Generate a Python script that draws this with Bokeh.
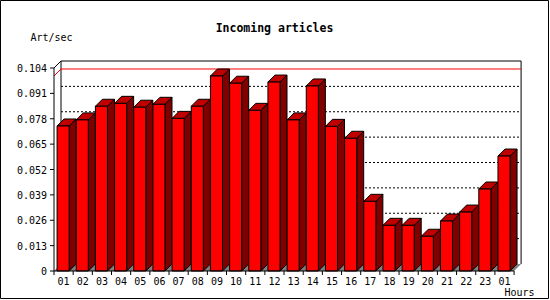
from bokeh.plotting import figure
from bokeh.models import Range1d
from bokeh.core.properties import value
from bokeh.embed import file_html
from bokeh.resources import INLINE

# ---------------- data ----------------
title_text = "Incoming articles"
y_title = "Art/sec"
x_title = "Hours"
hours = ["01", "02", "03", "04", "05", "06", "07", "08", "09", "10", "11", "12",
         "13", "14", "15", "16", "17", "18", "19", "20", "21", "22", "23", "01"]
rates = [0.0743, 0.0774, 0.0844, 0.0859, 0.0839, 0.0854, 0.0782, 0.0844,
         0.0999, 0.0962, 0.0823, 0.0968, 0.0774, 0.0948, 0.0741, 0.0680,
         0.0357, 0.0234, 0.0234, 0.0178, 0.0256, 0.0302, 0.0420, 0.0589]
y_ticks = [0, 0.013, 0.026, 0.039, 0.052, 0.065, 0.078, 0.091, 0.104]
y_tick_labels = ["0", "0.013", "0.026", "0.039", "0.052", "0.065", "0.078", "0.091", "0.104"]
y_top = 0.104

# ---------------- layout (pixels) ----------------
WIDTH, HEIGHT = 549, 299
X0_PX = 53.5      # pixel column of the front y axis
Y0_PX = 270.5     # pixel row of the front x axis
CAT_PX = 19.17    # width of one hour slot
K = 203.0 / y_top # pixels per unit on y
DEPTH = 7.0       # 3D depth in pixels


def xd(px):
    return (px - X0_PX) / CAT_PX


def yd(py):
    return (Y0_PX - py) / K


DX = DEPTH / CAT_PX
DY = DEPTH / K
N = len(rates)
FONT = value("DejaVu Sans Mono")

p = figure(width=WIDTH, height=HEIGHT, title=None,
           x_range=Range1d(xd(0), xd(WIDTH)), y_range=Range1d(yd(HEIGHT), yd(0)),
           x_axis_type=None, y_axis_type=None,
           output_backend="svg", toolbar_location=None,
           min_border=0, min_border_left=0, min_border_right=0,
           min_border_top=0, min_border_bottom=0)
p.grid.visible = False
p.background_fill_color = "white"
p.border_fill_color = "white"
p.outline_line_color = "black"
p.outline_line_width = 1

# floor
p.patch([0, N, N + DX, DX], [0, 0, DY, DY], fill_color="#808080", line_color=None)

# back wall frame
p.segment(x0=[DX, DX, N + DX], y0=[y_top + DY, DY, DY],
          x1=[N + DX, DX, N + DX], y1=[y_top + DY, y_top + DY, y_top + DY],
          line_color="black", line_width=1)

# dotted grid lines on the back wall
grid_vals = y_ticks[1:-1]
p.multi_line(xs=[[DX, N + DX] for _ in grid_vals],
             ys=[[v + DY, v + DY] for v in grid_vals],
             line_color="black", line_width=1, line_dash="2 2")

# max line (red)
m = max(rates)
p.multi_line(xs=[[0, DX, N + DX]], ys=[[m, m + DY, m + DY]],
             line_color="#FF0000", line_width=1)

# bars (side, top, front per bar)
xs, ys, cols = [], [], []
for i, v in enumerate(rates):
    l = i + 0.16
    r = i + 0.79
    xs.append([r, r + DX, r + DX, r]); ys.append([0, DY, v + DY, v]); cols.append("#800000")
    xs.append([l, r, r + DX, l + DX]); ys.append([v, v, v + DY, v + DY]); cols.append("#C00000")
    xs.append([l, r, r, l]); ys.append([0, 0, v, v]); cols.append("#FF0000")
p.patches(xs, ys, fill_color=cols, line_color="black", line_width=1)

# front axes and left-wall top diagonal
p.multi_line(xs=[[DX, 0, 0, N]], ys=[[y_top + DY, y_top, 0, 0]],
             line_color="black", line_width=1)

# y ticks
p.segment(x0=[xd(49.5)] * len(y_ticks), y0=y_ticks, x1=[0] * len(y_ticks), y1=y_ticks,
          line_color="black", line_width=1)
# x ticks at slot boundaries
bounds = list(range(N + 1))
p.segment(x0=bounds, y0=[0] * len(bounds), x1=bounds, y1=[yd(274.5)] * len(bounds),
          line_color="black", line_width=1)

# tick labels
p.text(x=[xd(46.5)] * len(y_ticks), y=y_ticks, text=y_tick_labels,
       text_align="right", text_baseline="middle", text_font=FONT,
       text_font_size="10px", text_color="black")
p.text(x=[i + 0.5 for i in range(N)], y=[yd(280.5)] * N, text=hours,
       text_align="center", text_baseline="middle", text_font=FONT,
       text_font_size="10px", text_color="black")

# titles
p.text(x=[xd(274)], y=[yd(27.5)], text=[title_text], text_align="center",
       text_baseline="middle", text_font=FONT, text_font_size="11.5px",
       text_font_style="bold", text_color="black")
p.text(x=[xd(30)], y=[yd(37)], text=[y_title], text_align="left",
       text_baseline="middle", text_font=FONT, text_font_size="10px",
       text_color="black")
p.text(x=[xd(504)], y=[yd(292)], text=[x_title], text_align="left",
       text_baseline="middle", text_font=FONT, text_font_size="10px",
       text_color="black")

open("out.html", "w").write(file_html(p, INLINE))
